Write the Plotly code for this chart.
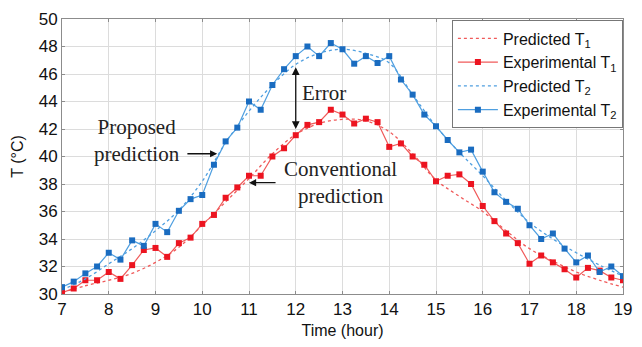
import plotly.graph_objects as go

# Experimental data (every 15 min from 7:00 to 19:00)
time_exp = [7 + 0.25 * i for i in range(49)]
exp_T1 = [30.1, 30.4, 31.0, 31.0, 31.6, 31.1, 32.1, 33.2, 33.35, 32.7, 33.7, 34.1,
          35.1, 35.75, 37.0, 37.75, 38.6, 38.6, 40.0, 40.6, 41.55, 42.3, 42.5, 43.4,
          43.05, 42.4, 42.75, 42.5, 40.7, 40.95, 40.0, 39.4, 38.2, 38.6, 38.7, 38.0,
          36.4, 35.3, 34.4, 33.7, 32.2, 32.8, 32.3, 31.8, 31.2, 31.9, 31.7, 31.2, 31.0]
exp_T2 = [30.5, 30.9, 31.5, 32.0, 33.0, 32.5, 33.9, 33.5, 35.1, 34.5, 36.05, 36.9,
          37.2, 39.4, 41.1, 42.1, 44.0, 43.4, 45.2, 46.35, 47.3, 48.0, 47.3, 48.25,
          47.8, 46.75, 47.3, 46.8, 47.3, 45.6, 44.5, 43.05, 42.2, 41.2, 40.3, 40.5,
          38.9, 37.4, 36.7, 36.2, 35.0, 34.0, 34.4, 33.3, 32.3, 32.8, 31.6, 32.0, 31.3]

# Predicted curves (read every half hour)
time_pred = [7 + 0.5 * i for i in range(25)]
pred_T1 = [30.1, 30.6, 31.0, 31.5, 32.3, 33.4, 35.0, 36.7, 38.4, 40.2, 41.6, 42.4,
           42.7, 42.6, 41.8, 40.2, 38.3, 37.1, 36.0, 34.6, 33.3, 32.4, 31.6, 31.0, 30.5]
pred_T2 = [30.3, 31.1, 32.2, 33.3, 34.6, 36.1, 38.2, 41.0, 43.3, 45.2, 46.7, 47.5,
           47.8, 47.5, 46.8, 44.5, 42.2, 40.3, 38.6, 36.8, 35.2, 34.0, 33.0, 32.1, 31.3]

x_ticks = list(range(7, 20))
y_ticks = list(range(30, 51, 2))

red_line = "#f05a5a"
red_mark = "#ec1420"
blue_line = "#4f9fe0"
blue_mark = "#1a6cc0"

fig = go.Figure()
fig.add_trace(go.Scatter(x=time_pred, y=pred_T1, mode="lines", line_shape="spline",
                         line=dict(color=red_line, width=1.3, dash="dot"),
                         name="Predicted T<sub>1</sub>"))
fig.add_trace(go.Scatter(x=time_exp, y=exp_T1, mode="lines+markers",
                         line=dict(color=red_line, width=1.2),
                         marker=dict(symbol="square", size=6, color=red_mark),
                         name="Experimental T<sub>1</sub>"))
fig.add_trace(go.Scatter(x=time_pred, y=pred_T2, mode="lines", line_shape="spline",
                         line=dict(color=blue_line, width=1.3, dash="dot"),
                         name="Predicted T<sub>2</sub>"))
fig.add_trace(go.Scatter(x=time_exp, y=exp_T2, mode="lines+markers",
                         line=dict(color=blue_line, width=1.2),
                         marker=dict(symbol="square", size=6, color=blue_mark),
                         name="Experimental T<sub>2</sub>"))

serif = "Liberation Serif, Times New Roman, serif"
ann = [
    dict(x=12, y=42.0, ax=12, ay=46.6, xref="x", yref="y", axref="x", ayref="y",
         showarrow=True, arrowhead=2, arrowsize=1.2, arrowwidth=1.3, arrowcolor="#111",
         startarrowhead=2, arrowside="end+start", startarrowsize=1.2, text=""),
    dict(x=12.1, y=44.65, xref="x", yref="y", text="Error", showarrow=False,
         xanchor="left", font=dict(family=serif, size=21, color="#222")),
    dict(x=10.32, y=40.2, ax=9.65, ay=40.2, xref="x", yref="y", axref="x", ayref="y",
         showarrow=True, arrowhead=2, arrowsize=1.1, arrowwidth=1.3, arrowcolor="#111", text=""),
    dict(x=8.6, y=41.2, xref="x", yref="y", text="Proposed<br>prediction", showarrow=False,
         align="center", font=dict(family=serif, size=21, color="#222")),
    dict(x=11.0, y=38.1, ax=11.6, ay=38.1, xref="x", yref="y", axref="x", ayref="y",
         showarrow=True, arrowhead=2, arrowsize=1.1, arrowwidth=1.3, arrowcolor="#111", text=""),
    dict(x=12.95, y=38.1, xref="x", yref="y", text="Conventional<br>prediction", showarrow=False,
         align="center", font=dict(family=serif, size=21, color="#222")),
]

axis_common = dict(showline=True, linecolor="#8c8c8c", linewidth=1, mirror="ticks",
                   ticks="inside", ticklen=3, tickcolor="#8c8c8c",
                   showgrid=True, gridcolor="#dcdcdc", gridwidth=1, zeroline=False,
                   tickfont=dict(family="Liberation Sans, Arial", size=17, color="#111"))

fig.update_layout(
    width=642, height=347,
    margin=dict(l=62, r=10, t=14, b=47),
    paper_bgcolor="white", plot_bgcolor="white",
    font=dict(family="Liberation Sans, Arial", color="#111"),
    xaxis=dict(range=[7, 19], tickvals=x_ticks, ticktext=[str(v) for v in x_ticks],
               title=dict(text="Time (hour)", font=dict(size=16), standoff=6), **axis_common),
    yaxis=dict(range=[30, 50], tickvals=y_ticks, ticktext=[str(v) for v in y_ticks],
               title=dict(text="T (°C)", font=dict(size=16), standoff=11), **axis_common),
    legend=dict(x=0.695, y=0.995, xanchor="left", yanchor="top",
                bgcolor="white", bordercolor="#777", borderwidth=1,
                font=dict(size=16, color="#111"), itemwidth=40, tracegroupgap=0),
    annotations=ann,
    showlegend=True,
)

fig.write_html("out.html")
